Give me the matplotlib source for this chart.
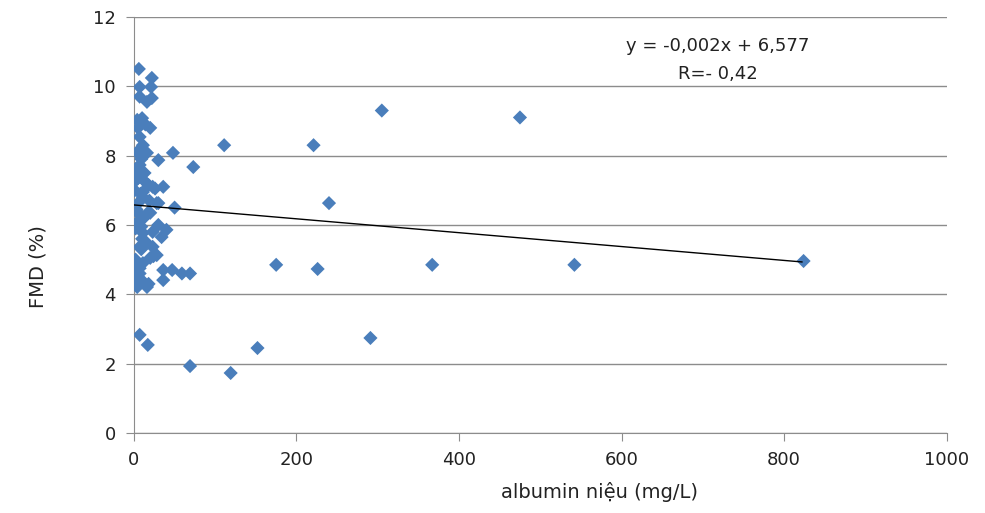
import numpy as np
import matplotlib.pyplot as plt

# albumin niệu (mg/L) và FMD (%)
albumin = [6, 22, 7, 21, 7, 16, 22, 10, 4, 20, 5, 7, 11, 4, 16, 30, 48, 73, 7, 5,
           14, 36, 23, 1, 11, 30, 50, 5, 20, 5, 28, 4, 17, 7, 4, 30, 40, 23, 11,
           34, 7, 23, 28, 20, 1, 11, 0, 36, 47, 59, 69, 7, 5, 36, 4, 16, 7, 17,
           305, 475, 111, 221, 240, 175, 226, 367, 542, 824, 291, 152, 119, 69,
           9, 13, 3, 18, 26, 8, 12, 2, 15, 9, 24, 6, 3, 12, 19, 2, 8, 14, 10, 6,
           5, 11, 3, 9, 14, 2, 7, 18]
fmd = [10.5, 10.24, 9.98, 9.98, 9.7, 9.55, 9.66, 9.08, 9.03, 8.8, 8.8, 8.54,
       8.3, 8.08, 8.08, 7.87, 8.08, 7.67, 7.73, 7.44, 7.24, 7.1, 7.1, 7.0, 6.8,
       6.63, 6.5, 6.35, 6.35, 6.63, 6.63, 6.37, 6.35, 6.14, 6.0, 6.0, 5.86,
       5.8, 5.77, 5.65, 5.37, 5.37, 5.13, 5.05, 4.94, 4.9, 4.7, 4.7, 4.7, 4.6,
       4.6, 4.6, 4.41, 4.41, 4.21, 4.21, 2.83, 2.54,
       9.3, 9.1, 8.3, 8.3, 6.63, 4.85, 4.73, 4.85, 4.85, 4.96, 2.74, 2.45,
       1.73, 1.93,
       7.9, 7.5, 7.3, 7.15, 7.05, 6.9, 6.2, 5.9, 5.5, 5.3, 5.1, 4.8, 4.5, 4.35,
       6.7, 7.6, 8.2, 8.9, 5.6, 6.1,
       7.35, 6.95, 6.45, 5.95, 5.45, 5.0, 4.75, 4.3]

# đường hồi quy
slope, intercept = -0.002, 6.577
line_x = np.array([0, 822])

fig = plt.figure(figsize=(9.85, 5.13), dpi=100)
ax = fig.add_axes([0.136, 0.156, 0.825, 0.811])

ax.scatter(albumin, fmd, marker='D', s=52, color='#4a7ebb', edgecolors='none', zorder=3)
ax.plot(line_x, slope * line_x + intercept, color='black', lw=1, zorder=4)

ax.set_xlim(0, 1000)
ax.set_ylim(0, 12)
ax.set_xticks(np.arange(0, 1001, 200))
ax.set_yticks(np.arange(0, 13, 2))
ax.yaxis.grid(True, color='#8c8c8c', lw=1)
ax.set_axisbelow(True)

for s in ['top', 'right']:
    ax.spines[s].set_visible(False)
for s in ['left', 'bottom']:
    ax.spines[s].set_color('#8c8c8c')
ax.tick_params(colors='#8c8c8c', labelcolor='#222222', labelsize=13, length=6, pad=7)

ax.set_xlabel('albumin niệu (mg/L)', fontsize=14, color='#222222')
ax.xaxis.set_label_coords(0.573, -0.118)
ax.set_ylabel('FMD (%)', fontsize=14, color='#222222')
ax.yaxis.set_label_coords(-0.106, 0.40)

ax.text(718, 11.16, 'y = -0,002x + 6,577', ha='center', va='center', fontsize=13, color='#222222')
ax.text(718, 10.35, 'R=- 0,42', ha='center', va='center', fontsize=13, color='#222222')

fig.savefig('out.png', dpi=100)
